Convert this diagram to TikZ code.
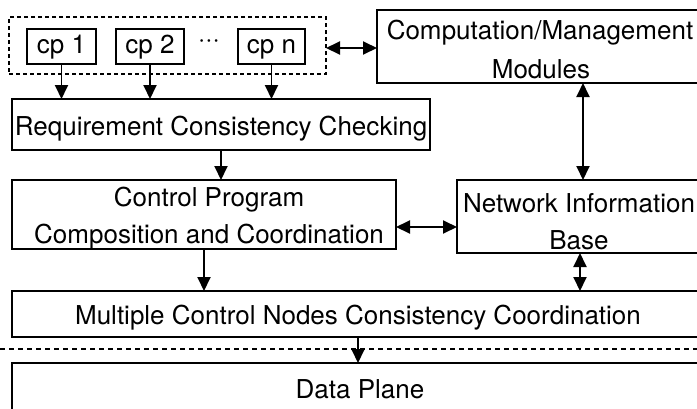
\documentclass[tikz,border=0pt]{standalone}
\usepackage{fontspec}
\setmainfont{TeX Gyre Heros}
\usetikzlibrary{arrows.meta}
\begin{document}
\begin{tikzpicture}[x=1pt,y=-1pt,
  line width=1.9pt,
  every node/.style={font=\fontsize{26pt}{30pt}\selectfont, inner sep=0pt, outer sep=0pt},
  box/.style={draw, rectangle},
  grpbox/.style={draw, rectangle, dash pattern=on 4pt off 3pt},
  lbl/.style={anchor=base},
  arr/.style={-{Triangle[length=14pt,width=13pt]}},
  dbl/.style={{Triangle[length=14pt,width=13pt]}-{Triangle[length=14pt,width=13pt]}}]
  % page frame
  \fill[white] (0,0) rectangle (697,408);
  \clip (0,0) rectangle (697,408);

  % control programs
  \node[grpbox, minimum width=317pt, minimum height=57pt] (grp) at (167.5,45.5) {};
  \node[box, minimum width=69pt, minimum height=35pt] (cp1) at (61.5,46.5) {};
  \node[box, minimum width=68pt, minimum height=35pt] (cp2) at (150,46.5) {};
  \node[box, minimum width=67pt, minimum height=35pt] (cpn) at (271.5,46.5) {};
  \node[lbl] (t-cp1) at (61.5,53) {cp 1};
  \node[lbl] (t-cp2) at (150,53) {cp 2};
  \node[lbl] (t-dots) at (209,47) {···};
  \node[lbl] (t-cpn) at (271.5,53) {cp n};

  % processing stages
  \node[box, minimum width=418pt, minimum height=51pt] (req) at (221,124.5) {};
  \node[lbl] (t-req) at (221,135) {Requirement Consistency Checking};

  \node[box, minimum width=384pt, minimum height=69pt] (cpc) at (204,214.5) {};
  \node[lbl] (t-cpc1) at (209,206) {Control Program};
  \node[lbl] (t-cpc2) at (209,243) {Composition and Coordination};

  \node[box, minimum width=326pt, minimum height=73pt] (cmm) at (540,46.5) {};
  \node[lbl] (t-cmm1) at (540,39) {Computation/Management};
  \node[lbl] (t-cmm2) at (541,78) {Modules};

  \node[box, minimum width=244pt, minimum height=73pt] (nib) at (579,216.5) {};
  \node[lbl] (t-nib1) at (579,212) {Network Information};
  \node[lbl] (t-nib2) at (579,249) {Base};

  \node[box, minimum width=692pt, minimum height=46pt] (mcn) at (358,314) {};
  \node[lbl] (t-mcn) at (358,324) {Multiple Control Nodes Consistency Coordination};

  \node[box, minimum width=696pt, minimum height=57pt] (dp) at (360,391.5) {};
  \node[lbl] (t-dp) at (360,398) {Data Plane};

  % control/data plane separator
  \draw[dash pattern=on 5pt off 4pt] (0,349) -- (697,349);

  % connectors
  \draw[arr] (cp1) -- (cp1 |- req.north);
  \draw[arr] (cp2) -- (cp2 |- req.north);
  \draw[arr] (cpn) -- (cpn |- req.north);
  \draw[arr] (req) -- (req |- cpc.north);
  \draw[arr] (cpc) -- (cpc |- mcn.north);
  \draw[arr] (mcn) -- (mcn |- dp.north);
  \draw[dbl] (grp.east |- 0,48) -- (cmm.west |- 0,48);
  \draw[dbl] (cmm.south -| 583,0) -- (nib.north -| 583,0);
  \draw[dbl] (cpc.east |- 0,227) -- (nib.west |- 0,227);
  \draw[dbl] (nib.south -| 580,0) -- (mcn.north -| 580,0);
\end{tikzpicture}
\end{document}
